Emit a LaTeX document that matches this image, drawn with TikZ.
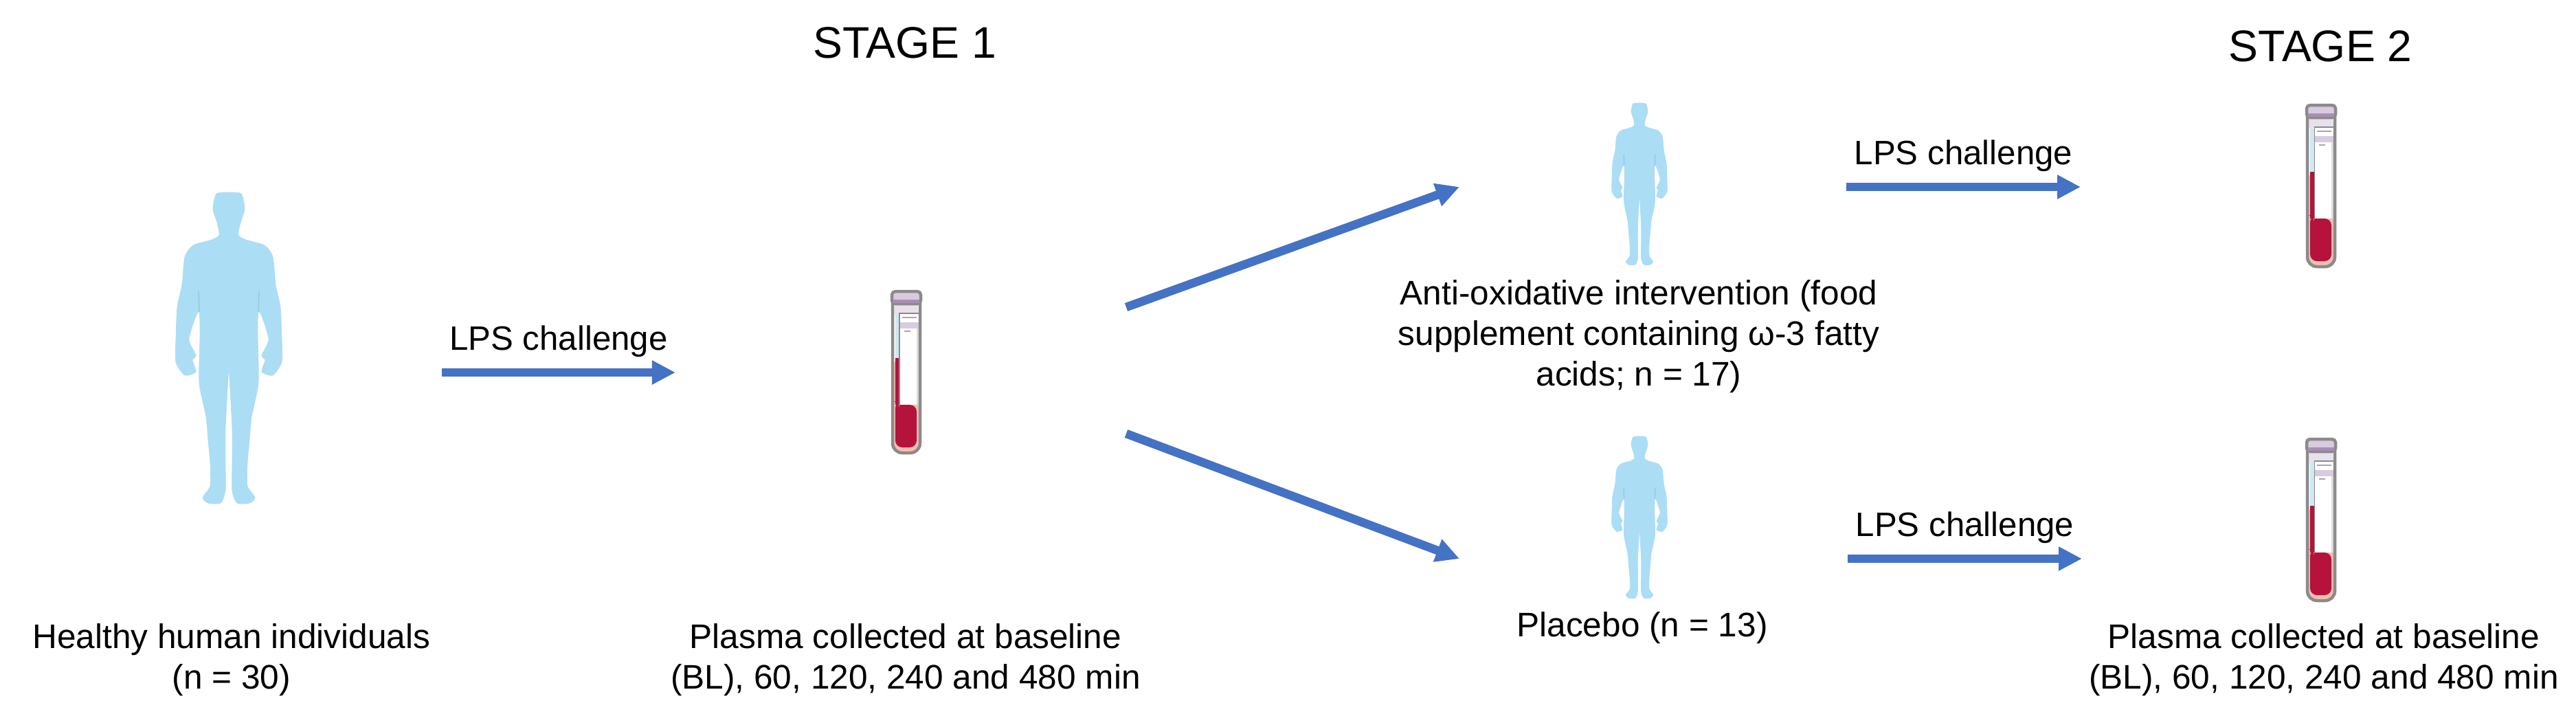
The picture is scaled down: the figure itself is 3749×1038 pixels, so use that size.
\documentclass[tikz,border=0pt]{standalone}
\usepackage{fontspec}
\setmainfont{Liberation Sans}
\usetikzlibrary{arrows.meta}

\definecolor{skin}{HTML}{ABDDF5}
\definecolor{skinline}{HTML}{9CCBE3}
\definecolor{flow}{HTML}{4472C4}
\definecolor{blood}{HTML}{B5123C}
\definecolor{wallpink}{HTML}{F2BFB0}
\definecolor{glass}{HTML}{8C8A8A}
\definecolor{plasma}{HTML}{CFE8F2}
\definecolor{lilac}{HTML}{D9CBDF}
\definecolor{darklilac}{HTML}{A78FB2}

\def\personhalf{plot[smooth,tension=.4] coordinates {(0,0) (18,2) (23,24) (17,44) (14,62) (25,69) (52,77) (64,94) (68,134) (75,167) (77,214) (77,247) (64,266) (48,261) (53,244) (48,237) (58,214) (48,180) (43,174) (42,190) (42,211) (43,277) (33,327) (30,361) (27,394) (27,427) (38,444) (30,452) (12,452) (5,434) (5,394) (5,344) (0,252)} -- cycle}

\tikzset{
	person/.pic={
		\fill[skin,draw=skin,line width=0.2pt] \personhalf;
		\fill[skin,draw=skin,line width=0.2pt,xscale=-1] \personhalf;
		\draw[skinline,line width=0.5pt] (44,144) -- (43,174) (-44,144) -- (-43,174);
	},
	bloodtube/.pic={
		% glass and what is in it
		\fill[white] (1,10) rectangle (41,97);
		\fill[wallpink,rounded corners=0.14cm] (1,97) -- (1,235) -- (41,235) -- (41,97) -- cycle;
		\fill[lilac!60] (4,18) rectangle (38,34);
		\fill[plasma] (5,34) rectangle (11,97);
		\fill[blood] (5,97) rectangle (11,165);
		\fill[blood,rounded corners=0.1cm] (5,160) -- (5,227) -- (36,227) -- (36,165) -- (11,165) -- (11,160) -- cycle;
		% label
		\fill[white] (11,32) rectangle (39,165);
		\fill[lilac] (11,45) rectangle (39,54);
		\draw[glass,line width=0.3pt] (11,165) -- (11,32) -- (39,32);
		\draw[lilac!80!black,line width=0.5pt] (15,38) -- (36,38) (18,58) -- (27,58);
		\fill[glass!30] (36,54) rectangle (39,165);
		% outline and cap
		\draw[glass,line width=0.045cm,rounded corners=0.14cm] (1,10) -- (1,235) -- (41,235) -- (41,10);
		\fill[lilac,draw=glass,line width=0.045cm,rounded corners=0.05cm] (0,0) rectangle (42,18);
		\fill[darklilac] (2,12) rectangle (40,17);
	}
}

\begin{document}
\begin{tikzpicture}[x=0.01cm,y=-0.01cm,
					>={Triangle[length=0.34cm,width=0.33cm]},
					auto,
					line width=0.125cm,
					main text/.style={align=center,text=black,font=\fontsize{14.1}{16.8}\selectfont,inner sep=0pt},
					stage text/.style={text=black,font=\fontsize{18.3}{20}\selectfont,inner sep=0pt},
					challenge/.style={text=black,font=\fontsize{14}{16}\selectfont,inner sep=0.22cm,outer sep=0pt}]

  \useasboundingbox (0,0) rectangle (3749,1038);

  \node[stage text] (stage1) at (1317,62) {STAGE 1};
  \node[stage text] (stage2) at (3377,67) {STAGE 2};

  \pic at (333,280) {person};
  \pic[scale=.52] at (2386,150) {person};
  \pic[scale=.52] at (2386,635) {person};

  \pic at (1298,424) {bloodtube};
  \pic at (3357,153) {bloodtube};
  \pic at (3357,639) {bloodtube};

  \node[main text] (healthy) at (337,960) {Healthy human individuals\\(n = 30)};
  \node[main text] (plasma1) at (1318,960) {Plasma collected at baseline\\(BL), 60, 120, 240 and 480 min};
  \node[main text] (antiox) at (2385,490) {Anti-oxidative intervention (food\\supplement containing ω-3 fatty\\acids; n = 17)};
  \node[main text] (placebo) at (2390,914) {Placebo (n = 13)};
  \node[main text] (plasma2) at (3382,960) {Plasma collected at baseline\\(BL), 60, 120, 240 and 480 min};

  \coordinate (a1) at (643,542);
  \coordinate (a2) at (983,542);
  \coordinate (b1) at (1639,447);
  \coordinate (b2) at (2124,272);
  \coordinate (c1) at (1639,631);
  \coordinate (c2) at (2124,813);
  \coordinate (d1) at (2687,272);
  \coordinate (d2) at (3028,272);
  \coordinate (e1) at (2689,813);
  \coordinate (e2) at (3030,813);

  \path[every node/.style={challenge},every edge/.style={draw=flow,->}]
    (a1) edge node {LPS challenge} (a2)
    (b1) edge (b2)
    (c1) edge (c2)
    (d1) edge node {LPS challenge} (d2)
    (e1) edge node {LPS challenge} (e2);
\end{tikzpicture}
\end{document}
